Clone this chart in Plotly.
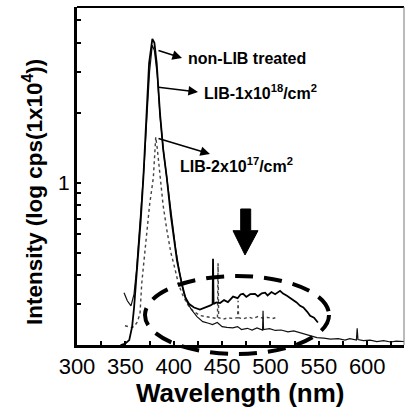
import plotly.graph_objects as go

# ---- data ----
nonlib_nm = [345, 350, 354, 357, 359, 361, 363.5, 366, 368.6, 372, 374.5, 377.9, 380, 382.4, 385.8, 389,
             392.8, 397, 400, 403.4, 408.3, 412, 416, 421, 427, 433, 438, 440.2, 440.6, 441.2, 444,
             447.9, 452, 456, 461.3, 466, 469, 471.7, 475, 479, 484, 487, 491, 494.4, 497, 501, 504.8,
             509.9, 513, 517, 520.3, 524, 527, 530.6, 534, 538, 541, 545, 549]
nonlib_val = [0.2, 0.203, 0.21, 0.24, 0.29, 0.367, 0.5, 0.7, 1.05, 1.98, 3.26, 4.16, 4.0, 3.26, 1.98, 1.4,
              1.05, 0.72, 0.58, 0.46, 0.367, 0.32, 0.30, 0.29, 0.284, 0.29, 0.296, 0.30, 0.47, 0.30, 0.305,
              0.303, 0.312, 0.306, 0.323, 0.318, 0.33, 0.332, 0.322, 0.331, 0.332, 0.324, 0.334, 0.336, 0.327, 0.338, 0.331,
              0.342, 0.333, 0.326, 0.319, 0.312, 0.305, 0.295, 0.29, 0.278, 0.267, 0.262, 0.25]

lib18_nm = [348.6, 352, 355.8, 358.9, 361.5, 364, 366.5, 369.5, 372.5, 375, 377.8, 380, 383, 386, 389.5,
            393.5, 398, 402, 406, 410, 414, 418, 424, 430, 436, 440, 445, 450, 455, 461, 466, 470, 476,
            481, 486, 491.8, 492.3, 492.8, 499, 505, 511, 518, 524, 530.6, 536, 541, 548, 555, 562, 570,
            577, 582, 588.8, 589.6, 590.4, 596, 603, 610, 617, 624, 630, 638]
lib18_val = [0.336, 0.31, 0.295, 0.33, 0.42, 0.58, 0.8, 1.2, 2.0, 3.0, 3.9, 3.7, 2.9, 1.9, 1.35,
             0.98, 0.68, 0.52, 0.41, 0.34, 0.305, 0.285, 0.265, 0.252, 0.248, 0.245, 0.25, 0.24, 0.238,
             0.237, 0.24, 0.233, 0.236, 0.232, 0.237, 0.232, 0.281, 0.233, 0.235, 0.231, 0.232, 0.228,
             0.23, 0.226, 0.222, 0.219, 0.215, 0.214, 0.212, 0.213, 0.21, 0.213, 0.21, 0.236, 0.211,
             0.209, 0.21, 0.207, 0.209, 0.206, 0.208, 0.207]

lib17_nm = [349.6, 353, 356, 359, 362, 365.1, 366.9, 369, 372, 375, 378.9, 381.4, 383, 385.8, 389, 393,
            397, 401, 404.8, 409, 414, 420, 427, 433, 440, 445.2, 445.8, 446.4, 451, 456, 461, 466,
            466.5, 467, 472, 477, 482, 487, 492, 497, 502, 505]
lib17_val = [0.242, 0.240, 0.238, 0.24, 0.25, 0.272, 0.367, 0.45, 0.6, 0.8, 1.05, 1.57, 1.4, 1.05, 0.8, 0.62,
             0.5, 0.43, 0.367, 0.33, 0.30, 0.28, 0.268, 0.265, 0.262, 0.26, 0.45, 0.262, 0.258, 0.262,
             0.26, 0.262, 0.31, 0.262, 0.259, 0.264, 0.26, 0.265, 0.261, 0.263, 0.26, 0.262]

x_ticks = [300, 325, 350, 375, 400, 425, 450, 475, 500, 525, 550, 575, 600, 625]
x_ticktext = ["300", "", "350", "", "400", "", "450", "", "500", "", "550", "", "600", ""]
y_ticks = [0.2, 0.3, 0.4, 0.5, 0.6, 0.7, 0.8, 0.9, 1, 2, 3, 4, 5]
y_ticktext = ["", "", "", "", "", "", "", "", "1", "", "", "", ""]

# ---- geometry helpers (plot area in pixels: left 77, right 404, top 7, bottom 345) ----
L, R, T, B = 77, 404, 7, 345
def px(x):
    return (x - L) / (R - L)
def py(y):
    return (B - y) / (B - T)

FONT = "Liberation Sans, Arial, sans-serif"

fig = go.Figure()
fig.add_trace(go.Scatter(x=lib17_nm, y=lib17_val, mode="lines",
                         line=dict(color="#444444", width=1.4, dash="dot"), showlegend=False))
fig.add_trace(go.Scatter(x=lib18_nm, y=lib18_val, mode="lines",
                         line=dict(color="#111111", width=1.2), showlegend=False))
fig.add_trace(go.Scatter(x=nonlib_nm, y=nonlib_val, mode="lines",
                         line=dict(color="black", width=1.8), showlegend=False))

fig.update_layout(
    width=405, height=409,
    margin=dict(l=L, r=405 - R, t=T, b=409 - B),
    paper_bgcolor="white", plot_bgcolor="white",
    font=dict(family=FONT, color="black"),
    xaxis=dict(range=[300, 638], tickvals=x_ticks, ticktext=x_ticktext, ticks="inside",
               ticklen=4, tickwidth=2, tickcolor="black", showline=True, linewidth=3,
               linecolor="black", showgrid=False, zeroline=False,
               tickfont=dict(size=22, family=FONT, color="black")),
    yaxis=dict(type="log", range=[-0.699, 0.756], tickvals=y_ticks, ticktext=y_ticktext,
               ticks="inside", ticklen=4, tickwidth=2, tickcolor="black", showline=True,
               linewidth=3, linecolor="black", showgrid=False, zeroline=False,
               tickfont=dict(size=21, family=FONT, color="black")),
)

shapes = []
# top and right frame lines
shapes.append(dict(type="line", xref="paper", yref="paper", x0=0, x1=1, y0=1, y1=1,
                   line=dict(color="black", width=2)))
shapes.append(dict(type="line", xref="paper", yref="paper", x0=1, x1=1, y0=0, y1=1,
                   line=dict(color="#777777", width=1)))
# dashed ellipse
shapes.append(dict(type="circle", xref="paper", yref="paper",
                   x0=px(145), x1=px(329), y0=py(354), y1=py(276),
                   line=dict(color="black", width=4, dash="18px,11px"), layer="above"))
# big down arrow
arrow_pts = [(240.7, 209), (250.7, 209), (250.7, 230.7), (258, 230.7), (245, 255),
             (233, 230.7), (240.7, 230.7)]
path = "M " + " L ".join(f"{px(a):.4f},{py(b):.4f}" for a, b in arrow_pts) + " Z"
shapes.append(dict(type="path", xref="paper", yref="paper", path=path,
                   fillcolor="black", line=dict(color="black", width=1)))
fig.update_layout(shapes=shapes)

ann = []
# axis titles
ann.append(dict(text="Intensity (log cps(1x10<sup>4</sup>))", xref="paper", yref="paper",
                x=px(33), y=py(192), xanchor="center", yanchor="middle", textangle=-90,
                showarrow=False, font=dict(size=22.5, family=FONT, weight="bold", color="black")))
ann.append(dict(text="Wavelength (nm)", xref="paper", yref="paper",
                x=px(240), y=py(393), xanchor="center", yanchor="middle",
                showarrow=False, font=dict(size=26, family=FONT, weight="bold", color="black")))
# labels with arrows
labels = [("non-LIB treated", 186, 58, (182, 58), (157, 50)),
          ("LIB-1x10<sup>18</sup>/cm<sup>2</sup>", 202, 92, (198, 92), (157, 87)),
          ("LIB-2x10<sup>17</sup>/cm<sup>2</sup>", 178, 165, (210, 154), (157, 138))]
for txt, tx, ty, head, tail in labels:
    ann.append(dict(text=txt, xref="paper", yref="paper", x=px(tx), y=py(ty),
                    xanchor="left", yanchor="middle", showarrow=False,
                    font=dict(size=16, family=FONT, weight="bold", color="black")))
    ann.append(dict(text="", xref="paper", yref="paper", x=px(head[0]), y=py(head[1]),
                    ax=tail[0] - head[0], ay=tail[1] - head[1], showarrow=True,
                    arrowhead=2, arrowsize=1.2, arrowwidth=1.6, arrowcolor="black"))
fig.update_layout(annotations=ann)

fig.write_html("out.html", config={"displayModeBar": False},
               post_script="document.body.style.margin='0px';document.body.style.overflow='hidden';")
